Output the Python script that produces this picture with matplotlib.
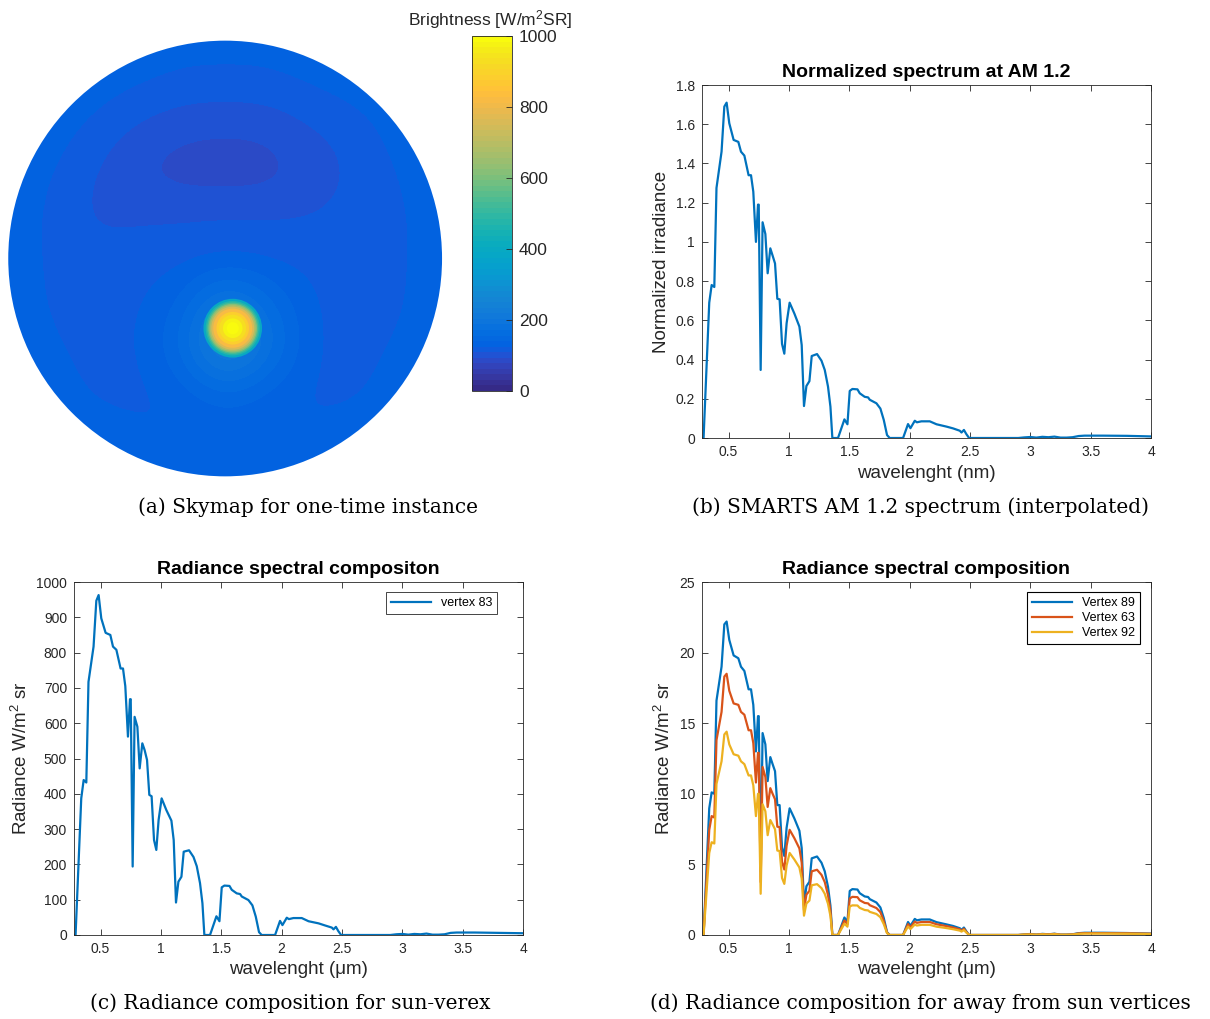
import numpy as np
import matplotlib
matplotlib.use("Agg")
import matplotlib.pyplot as plt
from matplotlib.colors import LinearSegmentedColormap, Normalize
from matplotlib.cm import ScalarMappable
from matplotlib.patches import Circle
from matplotlib.ticker import FormatStrFormatter

plt.rcParams["font.family"] = ["Liberation Sans", "DejaVu Sans"]
plt.rcParams["mathtext.fontset"] = "custom"
plt.rcParams["mathtext.rm"] = "Liberation Sans"
plt.rcParams["mathtext.default"] = "regular"

# ---- sky brightness at the dome nodes (rows top to bottom, columns x = -1 .. 1)
sky_brightness = [
    [140, 140, 140, 140, 134, 134, 134, 140, 140, 140, 140],
    [140, 140, 134, 126, 119, 118, 119, 126, 134, 140, 140],
    [140, 134, 120, 106, 98, 96, 98, 109, 116, 134, 140],
    [138, 126, 109, 93, 84, 82, 84, 100, 112, 126, 138],
    [135, 122, 104, 106, 108, 110, 109, 109, 115, 122, 135],
    [134, 122, 116, 119, 120, 122, 121, 120, 120, 122, 134],
    [135, 122, 120, 122, 140, 210, 160, 122, 120, 122, 135],
    [138, 126, 120, 122, 160, 270, 185, 122, 120, 126, 138],
    [140, 134, 120, 121, 130, 160, 135, 122, 120, 134, 140],
    [140, 140, 134, 126, 122, 121, 122, 126, 134, 140, 140],
    [140, 140, 140, 140, 134, 134, 134, 140, 140, 140, 140],
]
sun_x, sun_y = 0.035, -0.32
sun_radii = [0.135, 0.125, 0.118, 0.112, 0.106, 0.099, 0.09, 0.075, 0.062, 0.045, 0.028]
sun_values = [400, 470, 540, 610, 680, 750, 820, 880, 930, 970, 1000]

# ---- spectra
wavelength = [
    0.280, 0.293, 0.340, 0.360, 0.382, 0.400, 0.442, 0.465, 0.484, 0.506,
    0.542, 0.581, 0.603, 0.631, 0.666, 0.686, 0.705, 0.727, 0.744, 0.750,
    0.766, 0.782, 0.805, 0.824, 0.846, 0.865, 0.885, 0.904, 0.923, 0.943,
    0.962, 0.981, 1.006, 1.045, 1.087, 1.106, 1.125, 1.145, 1.170, 1.189,
    1.233, 1.270, 1.297, 1.324, 1.344, 1.360, 1.407, 1.460, 1.485, 1.504,
    1.526, 1.568, 1.587, 1.628, 1.656, 1.670, 1.725, 1.758, 1.786, 1.813,
    1.835, 1.946, 1.987, 2.007, 2.043, 2.060, 2.098, 2.167, 2.223, 2.306,
    2.360, 2.416, 2.430, 2.450, 2.470, 2.493, 2.900, 2.950, 3.000, 3.050,
    3.100, 3.150, 3.200, 3.250, 3.300, 3.350, 3.400, 3.450, 3.600, 3.800,
    4.000,
]
norm_irradiance = [
    0.0, 0.0, 0.69, 0.78, 0.77, 1.275, 1.46, 1.69, 1.71, 1.605,
    1.52, 1.51, 1.46, 1.44, 1.34, 1.34, 1.256, 1.0, 1.19, 1.19,
    0.347, 1.10, 1.04, 0.84, 0.967, 0.93, 0.89, 0.71, 0.707, 0.48,
    0.43, 0.585, 0.69, 0.635, 0.568, 0.474, 0.163, 0.265, 0.29, 0.418,
    0.428, 0.394, 0.347, 0.262, 0.16, 0.0, 0.0, 0.095, 0.07, 0.24,
    0.25, 0.248, 0.228, 0.21, 0.207, 0.195, 0.177, 0.15, 0.092, 0.015,
    0.0, 0.0, 0.071, 0.05, 0.088, 0.08, 0.085, 0.085, 0.07, 0.058,
    0.049, 0.037, 0.028, 0.041, 0.02, 0.0, 0.0, 0.003, 0.005, 0.002,
    0.006, 0.004, 0.007, 0.002, 0.002, 0.004, 0.010, 0.012, 0.012, 0.011,
    0.008,
]
radiance_v83 = [
    0, 0, 387, 439, 432, 717, 817, 947, 963, 897,
    856, 850, 817, 808, 755, 755, 705, 562, 668, 668,
    194, 618, 590, 472, 543, 524, 496, 397, 393, 269,
    241, 326, 387, 354, 324, 269, 92, 151, 165, 236,
    240, 221, 195, 147, 90, 0, 0, 53, 39, 135,
    140, 139, 128, 118, 116, 109, 99, 84, 52, 8,
    0, 0, 40, 28, 49, 45, 48, 48, 39, 33,
    27, 21, 16, 23, 11, 0, 0, 2, 3, 1,
    3, 2, 4, 1, 1, 2, 6, 7, 7, 6,
    5,
]
radiance_v89 = [
    0, 0, 8.97, 10.1, 10.0, 16.6, 19.0, 22.0, 22.2, 20.9,
    19.8, 19.6, 19.0, 18.7, 17.4, 17.4, 16.3, 13.0, 15.5, 15.5,
    4.5, 14.3, 13.5, 10.9, 12.6, 12.1, 11.6, 9.2, 9.2, 6.2,
    5.6, 7.6, 8.97, 8.26, 7.38, 6.16, 2.12, 3.45, 3.77, 5.43,
    5.56, 5.12, 4.51, 3.41, 2.08, 0, 0, 1.24, 0.91, 3.12,
    3.25, 3.22, 2.96, 2.73, 2.69, 2.54, 2.30, 1.95, 1.20, 0.2,
    0, 0, 0.92, 0.65, 1.14, 1.04, 1.1, 1.1, 0.91, 0.75,
    0.64, 0.48, 0.36, 0.53, 0.26, 0, 0, 0.04, 0.07, 0.03,
    0.08, 0.05, 0.09, 0.03, 0.03, 0.05, 0.13, 0.16, 0.16, 0.14,
    0.1,
]
radiance_v63 = [
    0, 0, 7.45, 8.42, 8.32, 13.8, 15.8, 18.3, 18.5, 17.3,
    16.4, 16.3, 15.8, 15.6, 14.5, 14.5, 13.6, 10.8, 12.9, 12.9,
    3.75, 11.9, 11.2, 9.07, 10.4, 10.0, 9.61, 7.67, 7.64, 5.18,
    4.64, 6.32, 7.45, 6.86, 6.13, 5.12, 1.76, 2.86, 3.13, 4.51,
    4.62, 4.26, 3.75, 2.83, 1.73, 0, 0, 1.03, 0.76, 2.59,
    2.7, 2.68, 2.46, 2.27, 2.24, 2.11, 1.91, 1.62, 0.99, 0.16,
    0, 0, 0.77, 0.54, 0.95, 0.86, 0.92, 0.92, 0.76, 0.63,
    0.53, 0.40, 0.30, 0.44, 0.22, 0, 0, 0.03, 0.05, 0.02,
    0.06, 0.04, 0.08, 0.02, 0.02, 0.04, 0.11, 0.13, 0.13, 0.12,
    0.09,
]
radiance_v92 = [
    0, 0, 5.81, 6.57, 6.48, 10.7, 12.3, 14.2, 14.4, 13.5,
    12.8, 12.7, 12.3, 12.1, 11.3, 11.3, 10.6, 8.42, 10.0, 10.0,
    2.92, 9.26, 8.76, 7.07, 8.14, 7.83, 7.49, 5.98, 5.95, 4.04,
    3.62, 4.93, 5.81, 5.35, 4.78, 3.99, 1.37, 2.23, 2.44, 3.52,
    3.60, 3.32, 2.92, 2.21, 1.35, 0, 0, 0.80, 0.59, 2.02,
    2.1, 2.09, 1.92, 1.77, 1.74, 1.64, 1.49, 1.26, 0.77, 0.13,
    0, 0, 0.60, 0.42, 0.74, 0.67, 0.72, 0.72, 0.59, 0.49,
    0.41, 0.31, 0.24, 0.35, 0.17, 0, 0, 0.03, 0.04, 0.02,
    0.05, 0.03, 0.06, 0.02, 0.02, 0.03, 0.08, 0.10, 0.10, 0.09,
    0.07,
]

# parula-like colormap, 64 levels
parula_anchors = {
    0: (0.2081, 0.1663, 0.5292), 2: (0.2123, 0.2138, 0.6270), 4: (0.1959, 0.2645, 0.7279),
    5: (0.1707, 0.2919, 0.7792), 6: (0.1253, 0.3242, 0.8303), 7: (0.0591, 0.3598, 0.8683),
    8: (0.0117, 0.3875, 0.8820), 10: (0.0165, 0.4266, 0.8786), 12: (0.0498, 0.4586, 0.8641),
    14: (0.0723, 0.4887, 0.8467), 16: (0.0793, 0.5200, 0.8312), 18: (0.0641, 0.5570, 0.8240),
    20: (0.0343, 0.5966, 0.8199), 22: (0.0239, 0.6287, 0.8038), 24: (0.0228, 0.6535, 0.7768),
    26: (0.0384, 0.6743, 0.7436), 28: (0.0843, 0.6928, 0.7062), 30: (0.1453, 0.7098, 0.6646),
    32: (0.2178, 0.7250, 0.6193), 34: (0.3022, 0.7376, 0.5712), 36: (0.3953, 0.7459, 0.5244),
    38: (0.4871, 0.7491, 0.4840), 40: (0.5709, 0.7485, 0.4494), 42: (0.6473, 0.7456, 0.4188),
    44: (0.7184, 0.7411, 0.3905), 46: (0.7858, 0.7356, 0.3633), 48: (0.8507, 0.7299, 0.3360),
    50: (0.9139, 0.7258, 0.3063), 52: (0.9739, 0.7314, 0.2666), 53: (0.9938, 0.7455, 0.2403),
    54: (0.9990, 0.7653, 0.2164), 56: (0.9880, 0.8066, 0.1794), 58: (0.9697, 0.8481, 0.1475),
    60: (0.9589, 0.8949, 0.1132), 62: (0.9661, 0.9514, 0.0755), 63: (0.9763, 0.9831, 0.0538),
}
parula = LinearSegmentedColormap.from_list(
    "parula", [(k / 63, c) for k, c in parula_anchors.items()], N=64)
bright_norm = Normalize(vmin=0, vmax=1000)

W, H = 1210, 1019
fig = plt.figure(figsize=(W / 100, H / 100), dpi=100)


def fig_box(x0, y0, x1, y1):
    # pixel box (left, top, right, bottom) -> figure fraction rect
    return [x0 / W, 1 - y1 / H, (x1 - x0) / W, (y1 - y0) / H]


AX_GRAY = "#262626"
BLUE, RED, ORANGE = "#0072BD", "#D95319", "#EDB120"


def style_axes(ax):
    ax.tick_params(direction="in", length=4, width=0.6, top=True, right=True,
                   labelsize=10, colors=AX_GRAY, pad=5)
    for s in ax.spines.values():
        s.set_linewidth(0.6)
        s.set_color(AX_GRAY)
    ax.set_xlim(0.28, 4.0)
    ax.set_xticks([0.5, 1, 1.5, 2, 2.5, 3, 3.5, 4])
    ax.xaxis.set_major_formatter(FormatStrFormatter("%g"))
    ax.yaxis.set_major_formatter(FormatStrFormatter("%g"))


# ---- (a) skymap
ax_sky = fig.add_axes(fig_box(7.6, 40, 442.7, 477))
ax_sky.set_xlim(-1.003, 1.003)
ax_sky.set_ylim(-1.003, 1.003)
ax_sky.set_axis_off()
sky = ax_sky.imshow(np.array(sky_brightness, dtype=float), extent=[-1.1, 1.1, -1.1, 1.1],
                    origin="upper", cmap=parula, norm=bright_norm, aspect="auto",
                    interpolation="bicubic", interpolation_stage="data")
sky.set_clip_path(Circle((0, 0), 1.0, transform=ax_sky.transData))
for r, v in zip(sun_radii, sun_values):
    ax_sky.add_patch(Circle((sun_x, sun_y), r, facecolor=parula(bright_norm(v)),
                            edgecolor="none"))

cax = fig.add_axes(fig_box(472, 36, 512, 391))
cb = fig.colorbar(ScalarMappable(norm=bright_norm, cmap=parula), cax=cax)
cb.set_ticks([0, 200, 400, 600, 800, 1000])
cb.outline.set_linewidth(0.6)
cb.outline.set_edgecolor(AX_GRAY)
cax.tick_params(direction="in", length=4, width=0.6, labelsize=12.5, colors=AX_GRAY, pad=5)
fig.text(490 / W, 1 - 20 / H, r"Brightness [W/m$^2$SR]", ha="center", va="center",
         fontsize=12.5, color=AX_GRAY)

# ---- (b) normalized spectrum
ax_b = fig.add_axes(fig_box(702, 85, 1151, 438))
ax_b.plot(wavelength, norm_irradiance, color=BLUE, lw=1.6)
style_axes(ax_b)
ax_b.set_ylim(0, 1.8)
ax_b.set_yticks(np.arange(0, 1.81, 0.2))
ax_b.set_title("Normalized spectrum at AM 1.2", fontsize=14, fontweight="bold", pad=6)
ax_b.set_xlabel("wavelenght (nm)", fontsize=13.5, color=AX_GRAY)
ax_b.set_ylabel("Normalized irradiance", fontsize=13.5, color=AX_GRAY)

# ---- (c) sun vertex radiance
ax_c = fig.add_axes(fig_box(74, 582, 523, 935))
ax_c.plot(wavelength, radiance_v83, color=BLUE, lw=1.6, label="vertex 83")
style_axes(ax_c)
ax_c.set_ylim(0, 1000)
ax_c.set_yticks(np.arange(0, 1001, 100))
ax_c.set_title("Radiance spectral compositon", fontsize=14, fontweight="bold", pad=6)
ax_c.set_xlabel("wavelenght (\u03bcm)", fontsize=13.5, color=AX_GRAY)
ax_c.set_ylabel(r"Radiance W/m$^2$ sr", fontsize=13.5, color=AX_GRAY)
leg = ax_c.legend(loc="upper right", bbox_to_anchor=(0.942, 0.972), borderaxespad=0,
                  fontsize=9, fancybox=False, edgecolor=AX_GRAY, framealpha=1,
                  handlelength=3.2)
leg.get_frame().set_linewidth(0.6)

# ---- (d) vertices away from the sun
ax_d = fig.add_axes(fig_box(702, 582, 1151, 935))
ax_d.plot(wavelength, radiance_v89, color=BLUE, lw=1.6, label="Vertex 89")
ax_d.plot(wavelength, radiance_v63, color=RED, lw=1.6, label="Vertex 63")
ax_d.plot(wavelength, radiance_v92, color=ORANGE, lw=1.6, label="Vertex 92")
style_axes(ax_d)
ax_d.set_ylim(0, 25)
ax_d.set_yticks(np.arange(0, 26, 5))
ax_d.set_title("Radiance spectral composition", fontsize=14, fontweight="bold", pad=6)
ax_d.set_xlabel("wavelenght (\u03bcm)", fontsize=13.5, color=AX_GRAY)
ax_d.set_ylabel(r"Radiance W/m$^2$ sr", fontsize=13.5, color=AX_GRAY)
leg = ax_d.legend(loc="upper right", bbox_to_anchor=(0.9755, 0.972), borderaxespad=0,
                  fontsize=9, fancybox=False, edgecolor="black", framealpha=1,
                  handlelength=3.2, labelspacing=0.25)
leg.get_frame().set_linewidth(0.8)

# ---- sub-captions
cap_font = dict(family=["DejaVu Serif"], fontsize=14.5, ha="center", va="center")
fig.text(308 / W, 1 - 507 / H, "(a) Skymap for one-time instance", **cap_font)
fig.text(920 / W, 1 - 507 / H, "(b) SMARTS AM 1.2 spectrum (interpolated)", **cap_font)
fig.text(290 / W, 1 - 1003 / H, "(c) Radiance composition for sun-verex", **cap_font)
fig.text(920 / W, 1 - 1003 / H, "(d) Radiance composition for away from sun vertices",
         **cap_font)

fig.savefig("out.png", dpi=100)
